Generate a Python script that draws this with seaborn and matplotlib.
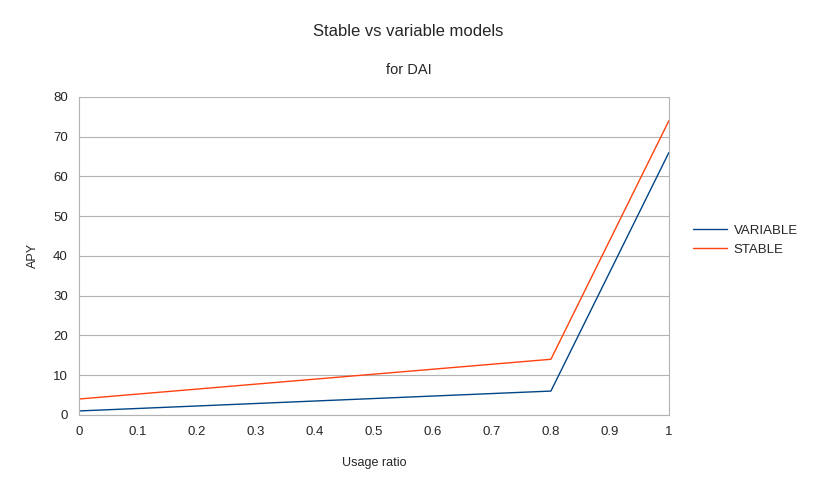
import matplotlib
matplotlib.use("Agg")
import matplotlib.pyplot as plt
import pandas as pd
import seaborn as sns

usage = [0.0, 0.8, 1.0]
variable_apy = [1, 6, 66]
stable_apy = [4, 14, 74]

df = pd.DataFrame({
    "Usage ratio": usage * 2,
    "APY": variable_apy + stable_apy,
    "model": ["VARIABLE"] * 3 + ["STABLE"] * 3,
})

sns.set_style("white")
plt.rcParams["font.family"] = ["Liberation Sans", "DejaVu Sans"]

fig = plt.figure(figsize=(8.17, 4.87), dpi=100)
ax = fig.add_axes([0.0967, 0.148, 0.722, 0.653])
sns.lineplot(data=df, x="Usage ratio", y="APY", hue="model",
             palette={"VARIABLE": "#004586", "STABLE": "#ff420e"},
             linewidth=1.0, ax=ax)

ax.set_xlim(0, 1)
ax.set_ylim(0, 80)
ax.set_xticks([i / 10 for i in range(11)])
ax.set_xticklabels(["0", "0.1", "0.2", "0.3", "0.4", "0.5", "0.6", "0.7", "0.8", "0.9", "1"])
ax.set_yticks(range(0, 81, 10))
ax.yaxis.grid(True, color="#b3b3b3", linewidth=0.8)
ax.set_axisbelow(True)
ax.spines["top"].set_visible(False)
for s in ["left", "bottom", "right"]:
    ax.spines[s].set_color("#b3b3b3")
ax.tick_params(axis="both", labelsize=9.5, length=3, color="#b3b3b3", pad=5)
ax.set_xlabel("Usage ratio", fontsize=9, labelpad=14)
ax.set_ylabel("APY", fontsize=9, labelpad=10)

ax.legend(title=None, frameon=False, fontsize=9.5, loc="center left",
          bbox_to_anchor=(1.02, 0.55), handlelength=2.6, handletextpad=0.5,
          labelspacing=0.5)

fig.text(0.5, 0.927, "Stable vs variable models", ha="center", fontsize=12)
fig.text(0.5, 0.848, "for DAI", ha="center", fontsize=10.5)

fig.savefig("out.png", dpi=100, facecolor="white")
